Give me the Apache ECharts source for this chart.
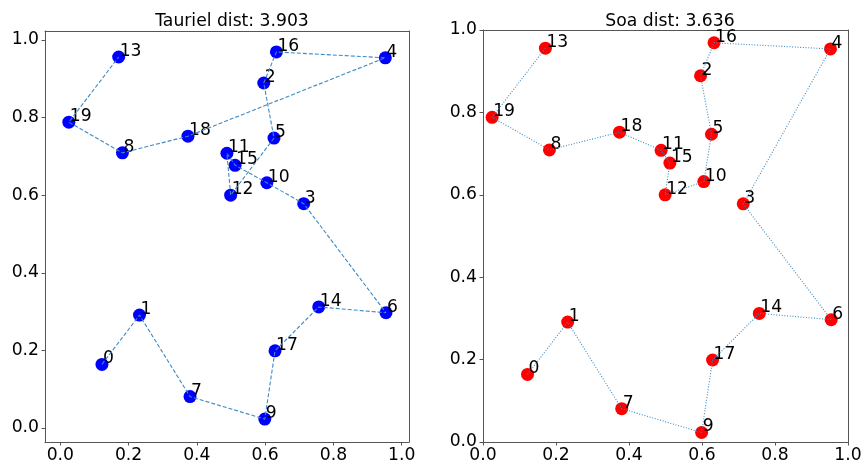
<!DOCTYPE html>
<html>
<head>
<meta charset="utf-8">
<script src="https://cdn.jsdelivr.net/npm/echarts@6/dist/echarts.min.js"></script>
<style>
html,body{margin:0;padding:0;background:#fff;}
#c{width:866px;height:468px;}
</style>
</head>
<body>
<div id="c"></div>
<script>
// City coordinates (index = city id)
const cityX = [0.122, 0.232, 0.596, 0.713, 0.952, 0.626, 0.954, 0.380, 0.182, 0.599,
               0.605, 0.488, 0.499, 0.171, 0.757, 0.512, 0.633, 0.629, 0.374, 0.025];
const cityY = [0.164, 0.291, 0.889, 0.578, 0.954, 0.747, 0.297, 0.081, 0.709, 0.023,
               0.632, 0.708, 0.600, 0.956, 0.312, 0.677, 0.969, 0.199, 0.752, 0.788];
// Tours
const taurielPath = [0, 1, 7, 9, 17, 14, 6, 3, 10, 15, 11, 12, 5, 2, 16, 4, 18, 8, 19, 13];
const soaPath = [0, 1, 7, 9, 17, 14, 6, 3, 4, 16, 2, 5, 10, 12, 15, 11, 18, 8, 19, 13];
const titles = ['Tauriel dist: 3.903', 'Soa dist: 3.636'];
const tickValues = [0, 0.2, 0.4, 0.6, 0.8, 1.0];

const FONT = 'DejaVu Sans';
const FS = 17.2;

function axis(gridIndex, min, max, isX) {
  return {
    type: 'value', gridIndex, min, max,
    position: isX ? 'bottom' : 'left',
    axisLine: { show: true, onZero: false, lineStyle: { color: '#555', width: 1 } },
    axisTick: { show: true, inside: false, length: 3.5, customValues: tickValues, lineStyle: { color: '#555' } },
    axisLabel: { show: true, customValues: tickValues, margin: isX ? 5 : 6, color: '#000',
      fontFamily: FONT, fontSize: FS, formatter: v => v.toFixed(1) },
    splitLine: { show: false }
  };
}
function frameAxis(gridIndex, min, max, isX) {
  return {
    type: 'value', gridIndex, min, max,
    position: isX ? 'top' : 'right',
    axisLine: { show: true, onZero: false, lineStyle: { color: '#555', width: 1 } },
    axisTick: { show: false }, axisLabel: { show: false }, splitLine: { show: false }
  };
}

const pts = cityX.map((x, i) => [x, cityY[i], i]);
function pathData(p) { return p.map(i => [cityX[i], cityY[i]]); }

function series(gi, path, pointColor, dash) {
  return [
    { type: 'scatter', xAxisIndex: gi * 2, yAxisIndex: gi * 2, data: pts, symbolSize: 13,
      itemStyle: { color: pointColor, opacity: 1 }, z: 2, silent: true,
      label: { show: true, formatter: p => String(p.data[2]), position: [7.5, 9.5],
        align: 'left', verticalAlign: 'bottom', color: '#000', fontFamily: FONT, fontSize: FS }
    },
    { type: 'line', xAxisIndex: gi * 2, yAxisIndex: gi * 2, data: pathData(path), showSymbol: false,
      symbol: 'none', z: 3, silent: true,
      lineStyle: { color: '#3b8ac4', width: 1.1, type: dash } }
  ];
}

const chart = echarts.init(document.getElementById('c'), null, { renderer: 'canvas' });
chart.setOption({
  animation: false,
  backgroundColor: '#fff',
  title: [
    { text: titles[0], left: 227, top: 8, textAlign: 'center',
      textStyle: { fontFamily: FONT, fontSize: FS, fontWeight: 'normal', color: '#000' } },
    { text: titles[1], left: 665, top: 8, textAlign: 'center',
      textStyle: { fontFamily: FONT, fontSize: FS, fontWeight: 'normal', color: '#000' } }
  ],
  grid: [
    { left: 45, top: 31, width: 364, height: 411 },
    { left: 483, top: 30, width: 365, height: 412 }
  ],
  xAxis: [
    axis(0, -0.0448, 1.0214, true), frameAxis(0, -0.0448, 1.0214, true),
    axis(1, 0, 1, true), frameAxis(1, 0, 1, true)
  ],
  yAxis: [
    axis(0, -0.036, 1.023, false), frameAxis(0, -0.036, 1.023, false),
    axis(1, 0, 1, false), frameAxis(1, 0, 1, false)
  ],
  series: [
    ...series(0, taurielPath, '#0000ff', [4, 2]),
    ...series(1, soaPath, '#ff0000', [1, 1.7])
  ]
});
</script>
</body>
</html>
